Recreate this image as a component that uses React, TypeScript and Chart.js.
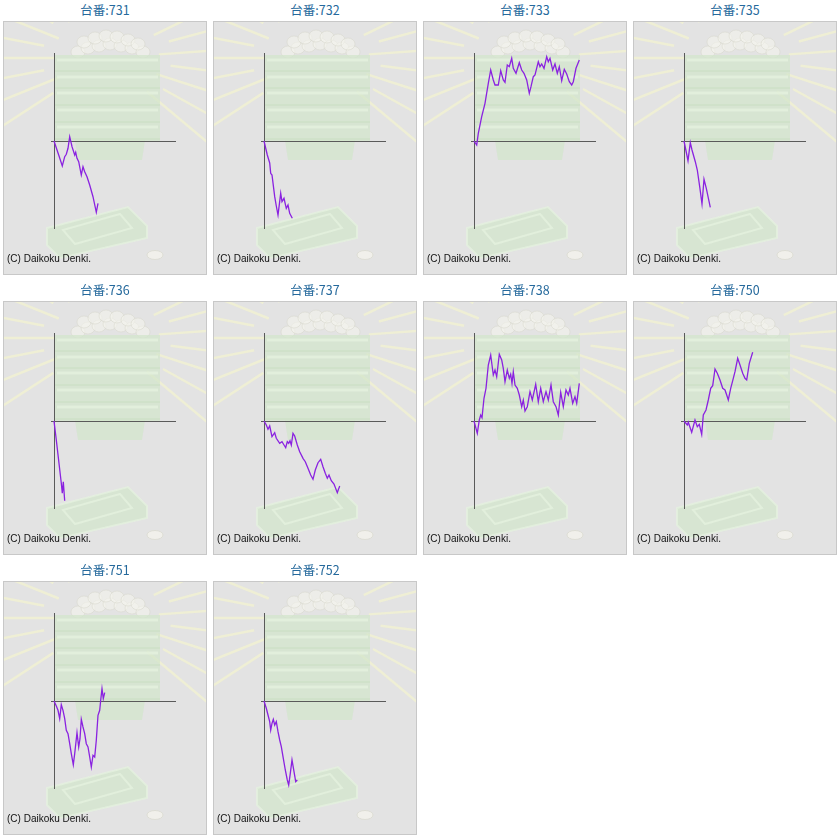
import { useEffect, useRef } from "react"
import { Chart, registerables } from "chart.js"

Chart.register(...registerables)

const MACHINES = ["731", "732", "733", "735", "736", "737", "738", "750", "751", "752"]

// games (x) and coin balance (y)
const X731 = [0, 4.7, 8.3, 10.7, 12.3, 14, 15.7, 18, 20.7, 21.7, 23, 24.7, 27.3, 29, 30.7, 33, 35.7, 39, 42.3, 44]
const Y731 = [0, -14, -25, -15.7, -13.3, -7.3, 4.3, -5.7, -14, -11.3, -17.3, -20.7, -34, -25.7, -30.7, -35.7, -44, -55.7, -71.3, -62.3]

const X732 = [0, 3.3, 5.7, 6.7, 8, 10.7, 12.3, 14, 16.7, 18, 20, 22.3, 24, 25.7, 28.3]
const Y732 = [0, -14, -22, -32.3, -34, -55.7, -65, -74, -52.3, -60.7, -57.3, -67.3, -64, -72.3, -77.3]

const X733 = [0, 2.7, 4.3, 7.7, 11, 14.3, 16.7, 19.3, 21, 24.3, 26.7, 29.3, 31, 33.3, 35.3, 37.7, 39.3, 42, 45.3, 47.7, 50, 52.7, 55.3, 57, 59.3, 61, 64.3, 66, 67.7, 70, 72.7, 74.3, 76, 78.7, 81, 83.3, 85.3, 87.7, 90.3, 92.7, 95.3, 97.7, 99.3, 102, 105.3]
const Y733 = [0, -4, 7.7, 24.3, 37.7, 57.7, 71, 61, 56, 56, 70.3, 61, 58.7, 76, 74.3, 82.7, 72.7, 67.7, 78.3, 71, 67.7, 61, 47.7, 54.3, 64.3, 66, 79.3, 74.3, 77, 72.7, 84.3, 79.3, 82.7, 71, 77, 67.7, 74.3, 60.3, 71.7, 67, 59.3, 56, 59.3, 72.7, 81]

const X735 = [0, 4, 6.3, 8, 11.3, 13.3, 15.7, 18, 20, 22.3, 26.3]
const Y735 = [0, -19.7, -1.7, -9, -20.7, -29, -45.7, -63, -38.3, -47.3, -66.3]

const X736 = [0, 2.3, 7.3, 8.3, 9.3, 10.7]
const Y736 = [0, -19, -62.3, -72.3, -60.7, -79.7]

const X737 = [0, 2.3, 4, 5.7, 8, 10.7, 12.3, 15.7, 18, 20, 21.7, 23.3, 24.7, 26, 27.3, 29, 30.7, 33.3, 35.7, 39, 41.3, 44, 46.7, 49, 51.3, 54, 56.7, 59, 61.3, 63.3, 65, 67.3, 70, 73.3, 75.7]
const Y737 = [0, -4, -8.3, -5, -15.7, -11.7, -17.3, -22.3, -20.7, -24, -26.7, -20.7, -22.3, -19.7, -24, -12.3, -15, -24, -30.7, -37.3, -40.7, -47.3, -54, -58.3, -49, -41.7, -38.3, -45.7, -52.3, -57.3, -54, -59.7, -63, -71.7, -65]

const X738 = [0, 3.3, 5.3, 6.7, 8, 10, 12, 14.3, 16.7, 19.3, 21, 22.7, 25.3, 27.7, 29.3, 31, 33.3, 35.3, 36.7, 38, 39.3, 41, 43.3, 45.3, 47.7, 49.3, 51, 53.3, 56, 58.3, 61.7, 64.3, 66.7, 69.3, 72, 74.3, 77, 79.3, 82, 84.3, 86.7, 89.3, 92, 94.3, 96, 98.7, 101, 102.7, 105.3]
const Y738 = [0, -12.3, 1, 6, 3.3, 22.7, 32.7, 56, 66, 46, 51, 44.3, 66.7, 61, 52.7, 39.3, 51, 42.7, 46.7, 37.7, 49.3, 36, 32.7, 26, 14.3, 21, 10, 14.3, 29.3, 21, 36.7, 19.3, 32.7, 19.3, 29.3, 21, 36, 19.3, 14.3, 6, 28.7, 14.3, 31, 26, 32.7, 17.7, 24.3, 17.7, 37.7]

const X750 = [0, 3.3, 4.3, 7.7, 11, 13.3, 15.3, 17.7, 19.3, 22, 24.3, 26.7, 28.7, 31, 33.3, 36, 38.7, 41, 42.7, 44.3, 46.7, 49.3, 51, 53.7, 56, 58.7, 61, 62.7, 65.3, 68.7]
const Y750 = [0, -4, -1.3, -11.3, 1, -5.7, -3.3, -13.3, 6, 11, 21, 32.7, 35.3, 52, 47.7, 41, 32.7, 31, 26, 21, 32.7, 42.7, 49.3, 62.7, 56, 47.7, 42.7, 41, 57.7, 68.7]

const X751 = [0, 2.3, 4, 5.7, 7.3, 9, 10.7, 12.3, 14, 15.7, 17.3, 19.3, 20.7, 23, 24.7, 26, 27.3, 29, 30.7, 32.3, 34, 35.7, 37.3, 39, 40.7, 42.3, 44, 45.7, 46.7, 48, 49.3, 50.7]
const Y751 = [0, -5, -9.3, -17.7, -3.7, -9.3, -17.7, -29.3, -32.7, -42.7, -52.7, -63.7, -52.7, -31.7, -46, -37.7, -18.3, -26, -32.7, -42.7, -46, -56, -66, -54.3, -56, -39.3, -14.3, -9.3, 0.7, 12.3, 2.3, 8.3]

const X752 = [0, 2.3, 4, 5.7, 6.7, 8, 9.3, 10.7, 12.3, 14, 15.7, 17.3, 19, 21.3, 23.3, 24.7, 26.3, 28, 30, 31.7, 33.3]
const Y752 = [0, -7.3, -14, -20.7, -29, -22.3, -18.3, -24, -20.7, -30.7, -39, -45.7, -55.7, -69, -79, -84, -72.3, -59, -70.7, -80.7, -79]

const SERIES_X = [X731, X732, X733, X735, X736, X737, X738, X750, X751, X752]
const SERIES_Y = [Y731, Y732, Y733, Y735, Y736, Y737, Y738, Y750, Y751, Y752]

const X_MAX = 122
const Y_LIMIT = 88

const COLORS = {
  line: "#8a22e0",
  axis: "#5a5a5a",
  title: "#25699c",
  panel: "#e3e3e3",
  border: "#c8c8c8",
  ray: "#f7f7cc",
  green: "#d2e6ca",
  greenLight: "#e6f2e0",
  greenDark: "#c3dabb",
  ball: "#f4f3ec",
  ballEdge: "#d9d9cf",
}

// faint illustration behind the plot, in canvas pixels
function drawBackdrop(ctx: CanvasRenderingContext2D) {
  ctx.save()
  ctx.globalAlpha = 0.6
  // light rays
  const cx = 103
  const cy = 36
  ctx.strokeStyle = COLORS.ray
  ctx.lineWidth = 2.5
  for (let a = -40; a <= 220; a += 11) {
    const r = (a * Math.PI) / 180
    const dx = Math.cos(r)
    const dy = -Math.sin(r)
    const r0 = a % 2 === 0 ? 52 : 64
    ctx.beginPath()
    ctx.moveTo(cx + dx * r0, cy + dy * r0)
    ctx.lineTo(cx + dx * 150, cy + dy * 150)
    ctx.stroke()
  }
  // pile of balls on top
  ctx.fillStyle = COLORS.ball
  ctx.strokeStyle = COLORS.ballEdge
  ctx.lineWidth = 1
  const balls = [
    [74, 30], [84, 26], [95, 24], [106, 22], [117, 24], [128, 26], [139, 30],
    [80, 20], [91, 16], [102, 14], [113, 15], [124, 18], [134, 22],
  ]
  for (const [bx, by] of balls) {
    ctx.beginPath()
    ctx.ellipse(bx, by, 7, 6, 0, 0, Math.PI * 2)
    ctx.fill()
    ctx.stroke()
  }
  // stacked trays
  ctx.globalAlpha = 0.7
  ctx.fillStyle = COLORS.green
  ctx.fillRect(51, 33, 105, 86)
  ctx.strokeStyle = COLORS.greenLight
  ctx.lineWidth = 3
  for (const ty of [38, 55, 71, 88, 105]) {
    ctx.beginPath()
    ctx.moveTo(53, ty)
    ctx.lineTo(154, ty)
    ctx.stroke()
  }
  ctx.strokeStyle = COLORS.greenDark
  ctx.lineWidth = 1
  for (const ty of [49, 66, 83, 100, 117]) {
    ctx.beginPath()
    ctx.moveTo(51, ty)
    ctx.lineTo(156, ty)
    ctx.stroke()
  }
  ctx.fillStyle = COLORS.green
  ctx.beginPath()
  ctx.moveTo(71, 118)
  ctx.lineTo(141, 118)
  ctx.lineTo(138, 138)
  ctx.lineTo(74, 138)
  ctx.closePath()
  ctx.fill()
  // bottom tray
  ctx.fillStyle = COLORS.green
  ctx.strokeStyle = COLORS.greenLight
  ctx.lineWidth = 2
  ctx.beginPath()
  ctx.moveTo(43, 206)
  ctx.lineTo(124, 185)
  ctx.lineTo(143, 204)
  ctx.lineTo(143, 216)
  ctx.lineTo(56, 236)
  ctx.lineTo(43, 223)
  ctx.closePath()
  ctx.fill()
  ctx.stroke()
  ctx.beginPath()
  ctx.moveTo(59, 208)
  ctx.lineTo(116, 192)
  ctx.lineTo(128, 206)
  ctx.lineTo(71, 222)
  ctx.closePath()
  ctx.stroke()
  // coin
  ctx.globalAlpha = 0.8
  ctx.fillStyle = COLORS.ball
  ctx.strokeStyle = COLORS.ballEdge
  ctx.lineWidth = 1
  ctx.beginPath()
  ctx.ellipse(151, 233, 8, 4.5, 0, 0, Math.PI * 2)
  ctx.fill()
  ctx.stroke()
  ctx.restore()
}

const backdrop = {
  id: "backdrop",
  beforeDraw(chart: Chart) {
    drawBackdrop(chart.ctx)
  },
  beforeDatasetsDraw(chart: Chart) {
    const { ctx } = chart
    const x = chart.scales.x
    const y = chart.scales.y
    const x0 = Math.round(x.getPixelForValue(0)) + 0.5
    const x1 = Math.round(x.getPixelForValue(X_MAX))
    const y0 = Math.round(y.getPixelForValue(0)) + 0.5
    const yTop = Math.round(y.getPixelForValue(Y_LIMIT))
    const yBot = Math.round(y.getPixelForValue(-Y_LIMIT))
    ctx.save()
    ctx.strokeStyle = COLORS.axis
    ctx.lineWidth = 1
    ctx.beginPath()
    ctx.moveTo(x0, yTop)
    ctx.lineTo(x0, yBot)
    ctx.moveTo(x0 - 3.5, y0)
    ctx.lineTo(x1, y0)
    ctx.stroke()
    ctx.restore()
  },
}

function Panel({ index }: { index: number }) {
  const chartRef = useRef<HTMLCanvasElement>(null)

  useEffect(() => {
    if (!chartRef.current) return
    const xs = SERIES_X[index]
    const ys = SERIES_Y[index]
    const chart = new Chart(chartRef.current, {
      type: "line",
      data: {
        datasets: [
          {
            data: xs.map((v, i) => ({ x: v, y: ys[i] })),
            borderColor: COLORS.line,
            borderWidth: 1.3,
            pointRadius: 0,
            tension: 0,
            fill: false,
            clip: false,
          },
        ],
      },
      options: {
        responsive: false,
        animation: false,
        events: [],
        layout: { padding: { left: 50, right: 30, top: 31, bottom: 45 } },
        plugins: { legend: { display: false }, tooltip: { enabled: false } },
        scales: {
          x: { type: "linear", min: 0, max: X_MAX, display: false },
          y: { type: "linear", min: -Y_LIMIT, max: Y_LIMIT, display: false },
        },
      },
      plugins: [backdrop],
    })
    return () => chart.destroy()
  }, [index])

  const col = index % 4
  const row = Math.floor(index / 4)

  return (
    <div style={{ position: "absolute", left: col * 210, top: row * 280, width: 210, height: 280 }}>
      <div
        style={{
          height: 21,
          lineHeight: "21px",
          textAlign: "center",
          color: COLORS.title,
          font: "12.5px 'Noto Sans CJK JP', 'Noto Sans', sans-serif",
        }}
      >
        台番:{MACHINES[index]}
      </div>
      <div
        style={{
          position: "absolute",
          left: 3,
          top: 21,
          width: 204,
          height: 254,
          boxSizing: "border-box",
          border: `1px solid ${COLORS.border}`,
          background: COLORS.panel,
        }}
      >
        <canvas ref={chartRef} width={202} height={252} style={{ display: "block", width: 202, height: 252 }} />
        <div
          style={{
            position: "absolute",
            left: 3,
            top: 232,
            font: "10px 'Liberation Sans', Arial, sans-serif",
            lineHeight: "10px",
            color: "#111",
          }}
        >
          (C) Daikoku Denki.
        </div>
      </div>
    </div>
  )
}

export default function App() {
  return (
    <div style={{ position: "absolute", left: 0, top: 0, width: 840, height: 840, background: "#fff" }}>
      {MACHINES.map((m, i) => (
        <Panel key={m} index={i} />
      ))}
    </div>
  )
}
